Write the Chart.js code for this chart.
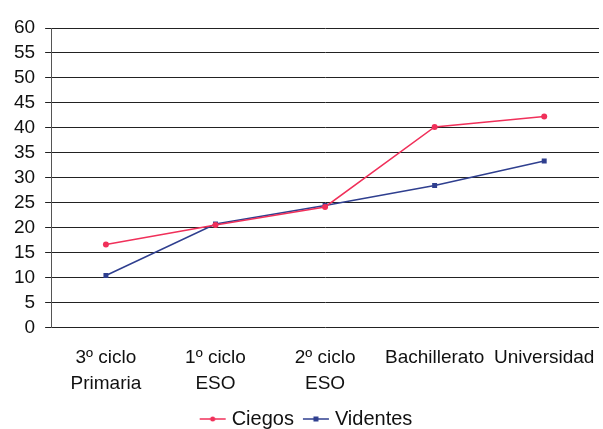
<!DOCTYPE html>
<html><head><meta charset="utf-8">
<script src="https://cdn.jsdelivr.net/npm/chart.js@4/dist/chart.umd.min.js"></script>
<style>html,body{margin:0;padding:0;background:#fff}#w{width:603px;height:429px}</style>
</head><body><div id="w"><canvas id="c"></canvas></div>
<script>
const categories = [["3º ciclo","Primaria"],["1º ciclo","ESO"],["2º ciclo","ESO"],"Bachillerato","Universidad"];
const ciegos = [16.7, 20.6, 24.2, 40.2, 42.3];
const videntes = [10.5, 20.8, 24.5, 28.5, 33.4];
const yTicks = {min:0, max:60, step:5};

const RED = '#f0305a', BLUE = '#2f3f8f';
function legendIcon(color, shape){
  const cv = document.createElement('canvas'); cv.width = 40; cv.height = 10;
  const g = cv.getContext('2d');
  g.strokeStyle = color; g.lineWidth = 1.5;
  g.beginPath(); g.moveTo(12,5); g.lineTo(38,5); g.stroke();
  g.fillStyle = color;
  if (shape==='circle'){ g.beginPath(); g.arc(25,5,2.5,0,Math.PI*2); g.fill(); }
  else g.fillRect(22.5,2.5,5,5);
  return cv;
}
const icons = [legendIcon(RED,'circle'), legendIcon(BLUE,'rect')];
const FONT = 'Liberation Sans, Arial';

new Chart(document.getElementById('c'), {
  type:'line',
  data:{labels:categories, datasets:[
    {label:'Ciegos', data:ciegos, borderColor:RED, backgroundColor:RED, borderWidth:1.5, pointStyle:'circle', pointRadius:3, pointBorderWidth:0},
    {label:'Videntes', data:videntes, borderColor:BLUE, backgroundColor:BLUE, borderWidth:1.5, pointStyle:'rect', pointRadius:3.5, pointBorderWidth:0}
  ]},
  options:{
    responsive:true, maintainAspectRatio:false, animation:false,
    layout:{padding:{top:28, right:1, left:4, bottom:-10}},
    scales:{
      x:{offset:true, grid:{display:false}, border:{display:false},
         afterFit:(s)=>{s.paddingLeft=0; s.paddingRight=0;},
         ticks:{color:'#111', font:{family:FONT, size:19, lineHeight:1.37}, maxRotation:0, autoSkip:false, padding:9}},
      y:{min:yTicks.min, max:yTicks.max,
         ticks:{stepSize:yTicks.step, autoSkip:false, color:'#111', font:{family:FONT, size:19, lineHeight:1}, padding:10},
         grid:{color:'#222', lineWidth:1, tickLength:6, drawTicks:true},
         border:{color:'#555', width:1}}
    },
    plugins:{
      legend:{position:'bottom', labels:{usePointStyle:true, pointStyleWidth:28, color:'#111', font:{family:FONT, size:20}, padding:3,
        generateLabels:(chart)=>chart.data.datasets.map((d,i)=>({text:d.label, pointStyle:icons[i], fillStyle:d.borderColor, strokeStyle:d.borderColor, lineWidth:0, datasetIndex:i, hidden:false, fontColor:'#111'}))}},
      tooltip:{enabled:false}
    }
  }
});
</script></body></html>
